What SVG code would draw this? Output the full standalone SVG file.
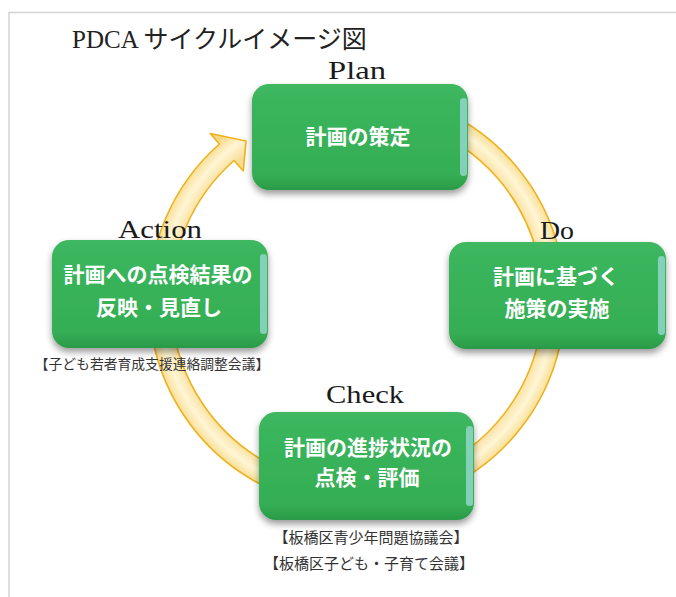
<svg xmlns="http://www.w3.org/2000/svg" width="676" height="597" viewBox="0 0 676 597">
<defs>
<style>
.frame{fill:none;stroke:#d4d4d4;stroke-width:1.5}
.title{font-family:"Liberation Serif","Noto Sans CJK JP",serif;font-size:25px;fill:#222}
.phase{font-family:"Liberation Serif",serif;font-size:26px;fill:#1a1a1a}
.btxt{font-family:"Noto Sans CJK JP","Noto Sans",sans-serif;font-size:21px;font-weight:bold;fill:#fff;text-anchor:middle}
.note{font-family:"Noto Sans CJK JP","Noto Sans",sans-serif;fill:#333;text-anchor:middle}
.box{fill:url(#gb);filter:url(#sh)}
.hl{fill:#97d8d2;opacity:0.8}
.ring{fill:url(#gr);stroke:#efb21c;stroke-width:1.6;stroke-linejoin:round}
</style>
<linearGradient id="gb" x1="0" y1="0" x2="0" y2="1">
<stop offset="0" stop-color="#3fb862"/>
<stop offset="0.15" stop-color="#3ab55c"/>
<stop offset="0.85" stop-color="#35ae55"/>
<stop offset="1" stop-color="#2a9a48"/>
</linearGradient>
<radialGradient id="gr" cx="357" cy="300" r="212" gradientUnits="userSpaceOnUse">
<stop offset="0.86" stop-color="#f8dc94"/>
<stop offset="0.93" stop-color="#fff6d6"/>
<stop offset="1" stop-color="#f7d782"/>
</radialGradient>
<filter id="sh" x="-10%" y="-10%" width="120%" height="130%">
<feGaussianBlur in="SourceAlpha" stdDeviation="3.5"/>
<feOffset dx="0" dy="4" result="b"/>
<feComponentTransfer><feFuncA type="linear" slope="0.4"/></feComponentTransfer>
<feMerge><feMergeNode/><feMergeNode in="SourceGraphic"/></feMerge>
</filter>
</defs>
<rect width="676" height="597" fill="#fff"/>
<path class="frame" d="M676 12.5 H9 V597"/>
<text class="title" x="72" y="48">PDCA サイクルイメージ図</text>

<g id="connectors">
<path class="ring" d="M338.9 92.8 A208 208 0 1 1 219.4 144.0 L210.2 133.5 L246 141 L243.3 171.0 L234.0 160.5 A186 186 0 1 0 340.8 114.7 Z"/>
</g>

<text class="phase" x="328" y="79" textLength="58" lengthAdjust="spacingAndGlyphs">Plan</text>
<text class="phase" x="540" y="239" textLength="34" lengthAdjust="spacingAndGlyphs">Do</text>
<text class="phase" x="118" y="238" textLength="84" lengthAdjust="spacingAndGlyphs">Action</text>
<text class="phase" x="326" y="403" textLength="78" lengthAdjust="spacingAndGlyphs">Check</text>

<g id="plan">
<rect class="box" x="252" y="84" width="216" height="106" rx="17"/>
<rect class="hl" x="460" y="98" width="7" height="78" rx="3.5"/>
<text class="btxt" x="358" y="144">計画の策定</text>
</g>

<g id="do">
<rect class="box" x="449" y="242" width="217" height="107" rx="17"/>
<rect class="hl" x="658" y="256" width="7" height="79" rx="3.5"/>
<text class="btxt" x="556" y="284">計画に基づく</text>
<text class="btxt" x="557" y="316">施策の実施</text>
</g>

<g id="check">
<rect class="box" x="259" y="412" width="215" height="108" rx="17"/>
<rect class="hl" x="466" y="426" width="7" height="80" rx="3.5"/>
<text class="btxt" x="368" y="455">計画の進捗状況の</text>
<text class="btxt" x="367" y="485">点検・評価</text>
<text class="note" x="371" y="543" font-size="15">【板橋区青少年問題協議会】</text>
<text class="note" x="369" y="569" font-size="15">【板橋区子ども・子育て会議】</text>
</g>

<g id="action">
<rect class="box" x="52" y="240" width="216" height="108" rx="17"/>
<rect class="hl" x="260" y="254" width="7" height="80" rx="3.5"/>
<text class="btxt" x="158" y="282">計画への点検結果の</text>
<text class="btxt" x="159" y="315">反映・見直し</text>
<text class="note" x="152" y="369" font-size="13.8">【子ども若者育成支援連絡調整会議】</text>
</g>
</svg>
